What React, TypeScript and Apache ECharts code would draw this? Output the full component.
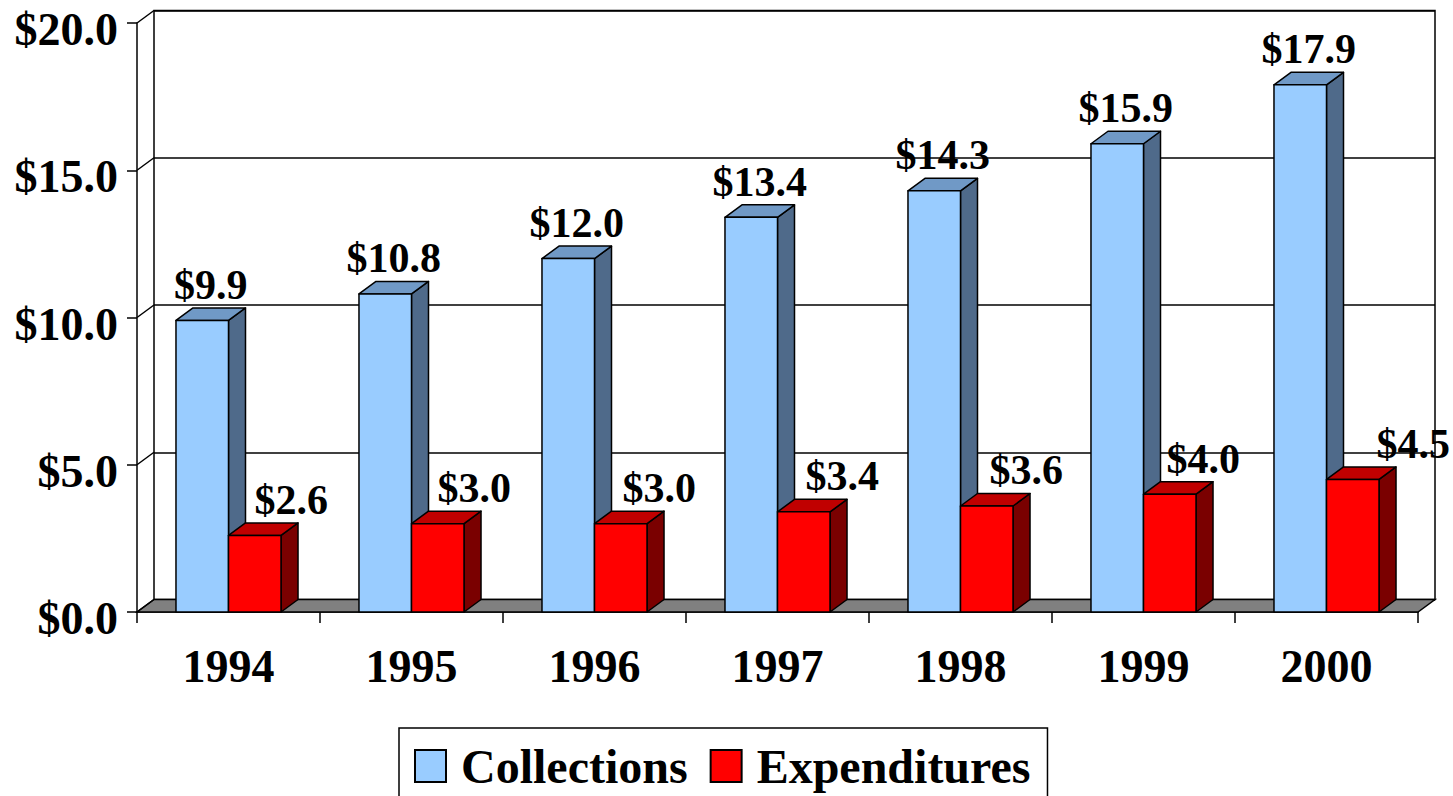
import React, { useEffect, useRef } from "react";
import * as echarts from "echarts";

const YEARS = ["1994", "1995", "1996", "1997", "1998", "1999", "2000"];
const COLLECTIONS = [9.9, 10.8, 12.0, 13.4, 14.3, 15.9, 17.9];
const EXPENDITURES = [2.6, 3.0, 3.0, 3.4, 3.6, 4.0, 4.5];
const Y_TICKS = [0, 5, 10, 15, 20];
const SERIES_NAMES = ["Collections", "Expenditures"];

// styles
const DX = 17;
const DY = -12.5;
const FONT = '"Liberation Serif", "Times New Roman", serif';
const FACE = [
  { front: "#99CCFF", top: "#7099C6", side: "#4F6A8A" },
  { front: "#FF0000", top: "#C00000", side: "#7A0000" },
];
const LABEL_SHIFT = [
  [0, 0, 0, 0, 0, 0, 0],
  [28, 28, 30, 30, 31, 25, 52],
];
const BAR_FRAC = 0.287;

function barRenderer(s: number) {
  return (params: any, api: any) => {
    const i = api.value(0);
    const v = api.value(1);
    const c = api.coord([i, v]);
    const c0 = api.coord([i, 0]);
    const bw = api.size([1, 0])[0];
    const w = bw * BAR_FRAC;
    const x0 = s === 0 ? c[0] - w : c[0];
    const x1 = x0 + w;
    const yT = c[1];
    const yB = c0[1];
    const f = FACE[s];
    const stroke = { stroke: "#000", lineWidth: 1.5, lineJoin: "round" };
    return {
      type: "group",
      children: [
        {
          type: "polygon",
          shape: { points: [[x1, yT], [x1 + DX, yT + DY], [x1 + DX, yB + DY], [x1, yB]] },
          style: { fill: f.side, ...stroke },
        },
        {
          type: "polygon",
          shape: { points: [[x0, yT], [x1, yT], [x1 + DX, yT + DY], [x0 + DX, yT + DY]] },
          style: { fill: f.top, ...stroke },
        },
        {
          type: "rect",
          shape: { x: x0, y: yT, width: w, height: yB - yT },
          style: { fill: f.front, ...stroke },
        },
        {
          type: "text",
          x: (x0 + x1 + DX) / 2 + LABEL_SHIFT[s][params.dataIndex],
          y: yT + DY - 23,
          style: {
            text: "$" + v.toFixed(1),
            font: `bold 42px ${FONT}`,
            fill: "#000",
            align: "center",
            verticalAlign: "middle",
          },
        },
      ],
    };
  };
}

export default function App() {
  const ref = useRef<HTMLDivElement>(null);
  useEffect(() => {
    if (!ref.current) return;
    const chart = echarts.init(ref.current, null, { renderer: "svg" });
    const option: any = {
      animation: false,
      backgroundColor: "#fff",
      grid: [
        { left: 137, top: 23, width: 1281, height: 589 },
        {
          left: 137 + DX,
          top: 23 + DY,
          width: 1281,
          height: 589,
          show: true,
          borderColor: "#000",
          borderWidth: 1.5,
          backgroundColor: "transparent",
        },
      ],
      xAxis: [
        {
          type: "category",
          gridIndex: 0,
          data: YEARS,
          axisLine: { lineStyle: { color: "#000", width: 1.5 } },
          axisTick: { show: true, length: 11, lineStyle: { color: "#000", width: 1.5 } },
          axisLabel: {
            color: "#000",
            fontFamily: FONT,
            fontWeight: "bold",
            fontSize: 46,
            margin: 31,
          },
          splitLine: { show: false },
        },
        {
          type: "category",
          gridIndex: 1,
          data: YEARS,
          show: false,
        },
      ],
      yAxis: [
        {
          type: "value",
          gridIndex: 0,
          min: 0,
          max: 20,
          interval: 5,
          axisLine: { show: true, lineStyle: { color: "#000", width: 1.5 } },
          axisTick: { show: true, length: 10, lineStyle: { color: "#000", width: 1.5 } },
          axisLabel: {
            color: "#000",
            fontFamily: FONT,
            fontWeight: "bold",
            fontSize: 46,
            margin: 19,
            verticalAlign: "top",
            lineHeight: 13,
            formatter: (v: number) => "$" + v.toFixed(1),
          },
          splitLine: { show: false },
        },
        {
          type: "value",
          gridIndex: 1,
          min: 0,
          max: 20,
          interval: 5,
          axisLine: { show: false },
          axisTick: { show: false },
          axisLabel: { show: false },
          splitLine: { show: true, lineStyle: { color: "#000", width: 1.5 } },
        },
      ],
      legend: {
        left: 399,
        top: 728,
        orient: "horizontal",
        padding: [14, 17, 40, 15],
        itemWidth: 31,
        itemHeight: 32,
        itemGap: 22,
        borderColor: "#000",
        borderWidth: 1.5,
        icon: "rect",
        data: SERIES_NAMES,
        textStyle: {
          color: "#000",
          fontFamily: FONT,
          fontWeight: "bold",
          fontSize: 48,
          padding: [0, 0, 0, 10],
        },
      },
      series: [
        {
          type: "custom",
          name: "floor",
          xAxisIndex: 0,
          yAxisIndex: 0,
          silent: true,
          data: [[0, 0]],
          renderItem: (params: any, api: any) => {
            const bw = api.size([1, 0])[0];
            const a = api.coord([0, 0]);
            const b = api.coord([YEARS.length - 1, 0]);
            const xl = a[0] - bw / 2;
            const xr = b[0] + bw / 2;
            const y = a[1];
            return {
              type: "polygon",
              shape: { points: [[xl, y], [xr, y], [xr + DX, y + DY], [xl + DX, y + DY]] },
              style: { fill: "#808080", stroke: "#000", lineWidth: 1.5 },
            };
          },
        },
        {
          type: "custom",
          name: "sidewall",
          xAxisIndex: 0,
          yAxisIndex: 0,
          silent: true,
          data: Y_TICKS.map((v) => [0, v]),
          renderItem: (params: any, api: any) => {
            const bw = api.size([1, 0])[0];
            const c = api.coord([0, api.value(1)]);
            const x = c[0] - bw / 2;
            return {
              type: "line",
              shape: { x1: x, y1: c[1], x2: x + DX, y2: c[1] + DY },
              style: { stroke: "#000", lineWidth: 1.5 },
            };
          },
        },
        {
          type: "custom",
          name: SERIES_NAMES[0],
          xAxisIndex: 0,
          yAxisIndex: 0,
          itemStyle: { color: FACE[0].front, borderColor: "#000", borderWidth: 1.5 },
          data: COLLECTIONS.map((v, i) => [i, v]),
          encode: { x: 0, y: 1 },
          renderItem: barRenderer(0),
        },
        {
          type: "custom",
          name: SERIES_NAMES[1],
          xAxisIndex: 0,
          yAxisIndex: 0,
          itemStyle: { color: FACE[1].front, borderColor: "#000", borderWidth: 1.5 },
          data: EXPENDITURES.map((v, i) => [i, v]),
          encode: { x: 0, y: 1 },
          renderItem: barRenderer(1),
        },
      ],
    };
    chart.setOption(option);
    return () => chart.dispose();
  }, []);
  return (
    <div
      ref={ref}
      style={{ position: "fixed", left: 0, top: 0, width: 1453, height: 796, background: "#fff" }}
    />
  );
}
